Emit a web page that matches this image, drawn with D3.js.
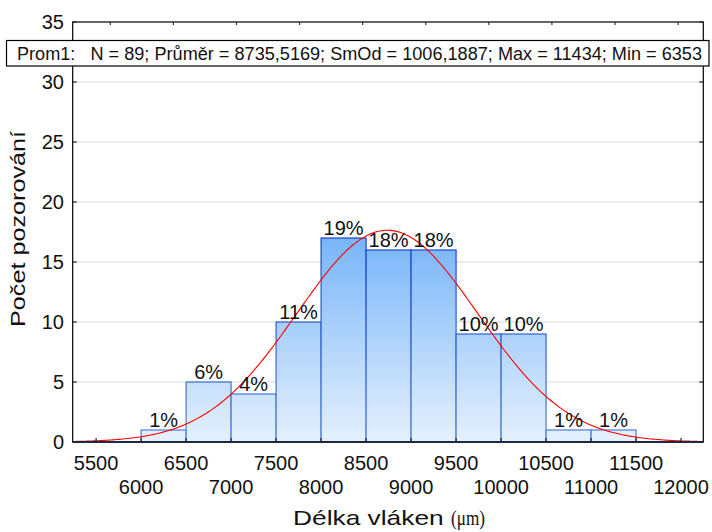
<!DOCTYPE html>
<html>
<head>
<meta charset="utf-8">
<script src="https://cdn.jsdelivr.net/npm/d3@7"></script>
<style>
  html, body { margin: 0; padding: 0; background: #fff; }
  svg { display: block; font-family: "Liberation Sans", Arial, sans-serif; }
</style>
</head>
<body>
<svg id="chart" width="712" height="532"></svg>
<script>
// ---- data ----
const binStarts = [6000, 6500, 7000, 7500, 8000, 8500, 9000, 9500, 10000, 10500, 11000];
const binWidth = 500;
const counts = [1, 5, 4, 10, 17, 16, 16, 9, 9, 1, 1];
const N = 89;
const mean = 8735.5169;
const sd = 1006.1887;
const maxVal = 11434;
const minVal = 6353;
const xTicksRow1 = [5500, 6500, 7500, 8500, 9500, 10500, 11500];
const xTicksRow2 = [6000, 7000, 8000, 9000, 10000, 11000, 12000];
const yTicks = [0, 5, 10, 15, 20, 25, 30, 35];
const topTicks = [5658, 6359, 7060, 7761, 8462, 9163, 9864, 10565, 11266, 11967];
const statsText = "Prom1:   N = 89; Průměr = 8735,5169; SmOd = 1006,1887; Max = 11434; Min = 6353";
const xTitle = "Délka vláken ";
const xTitleUnit = "(μm)";
const yTitle = "Počet pozorování";

// ---- layout ----
const L = 72.7, R = 703.3, T = 22, B = 442;
const svg = d3.select("#chart");
const x = d3.scaleLinear().domain([5240, 12247]).range([L, R]);
const y = d3.scaleLinear().domain([0, 35]).range([B, T]);

// gradient
const defs = svg.append("defs");
const grad = defs.append("linearGradient").attr("id", "barGrad")
  .attr("gradientUnits", "userSpaceOnUse")
  .attr("x1", 0).attr("x2", 0).attr("y1", y(0)).attr("y2", y(17));
grad.append("stop").attr("offset", 0).attr("stop-color", "#e6f1fd");
grad.append("stop").attr("offset", 1).attr("stop-color", "#78b5f8");

const sgrad = defs.append("linearGradient").attr("id", "strokeGrad")
  .attr("gradientUnits", "userSpaceOnUse")
  .attr("x1", 0).attr("x2", 0).attr("y1", y(0)).attr("y2", y(17));
sgrad.append("stop").attr("offset", 0).attr("stop-color", "#4f7fdc");
sgrad.append("stop").attr("offset", 1).attr("stop-color", "#1445c6");

defs.append("clipPath").attr("id", "plotClip").append("rect")
  .attr("x", L).attr("y", T).attr("width", R - L).attr("height", B - T);

// gridlines
svg.append("g").selectAll("line").data(yTicks.filter(d => d > 0 && d < 35)).join("line")
  .attr("x1", L).attr("x2", R).attr("y1", d => y(d)).attr("y2", d => y(d))
  .attr("stroke", "#d9d9d9").attr("stroke-width", 1);

// bars
svg.append("g").selectAll("rect").data(binStarts).join("rect")
  .attr("x", d => x(d))
  .attr("width", d => x(d + binWidth) - x(d))
  .attr("y", (d, i) => y(counts[i]))
  .attr("height", (d, i) => y(0) - y(counts[i]))
  .attr("fill", "url(#barGrad)")
  .attr("stroke", "url(#strokeGrad)")
  .attr("stroke-width", 1.2);

// normal curve
const nPts = 300;
const xs = d3.range(nPts + 1).map(i => x.domain()[0] + (x.domain()[1] - x.domain()[0]) * i / nPts);
const pdf = v => N * binWidth * Math.exp(-0.5 * ((v - mean) / sd) ** 2) / (sd * Math.sqrt(2 * Math.PI));
svg.append("path")
  .datum(xs)
  .attr("clip-path", "url(#plotClip)")
  .attr("d", d3.line().x(d => x(d)).y(d => y(pdf(d))))
  .attr("fill", "none").attr("stroke", "#ff0000").attr("stroke-width", 1.1);

// percent labels
svg.append("g").selectAll("text").data(binStarts).join("text")
  .attr("x", d => x(d + binWidth / 2))
  .attr("y", (d, i) => y(counts[i]) - 3)
  .attr("text-anchor", "middle")
  .attr("font-size", 20)
  .attr("fill", "#111")
  .text((d, i) => Math.round(counts[i] / N * 100) + "%");

// frame
svg.append("rect").attr("x", L).attr("y", T).attr("width", R - L).attr("height", B - T)
  .attr("fill", "none").attr("stroke", "#000").attr("stroke-width", 1.2);
// baseline
svg.append("line").attr("x1", L).attr("x2", R).attr("y1", y(0)).attr("y2", y(0))
  .attr("stroke", "#1c2a48").attr("stroke-width", 2.2);

// bottom ticks (inward)
const allX = xTicksRow1.concat(xTicksRow2);
svg.append("g").selectAll("line").data(allX).join("line")
  .attr("x1", d => x(d)).attr("x2", d => x(d)).attr("y1", B).attr("y2", B - 4)
  .attr("stroke", "#222").attr("stroke-width", 1.2);
// top ticks
svg.append("g").selectAll("line").data(topTicks).join("line")
  .attr("x1", d => x(d)).attr("x2", d => x(d)).attr("y1", T).attr("y2", T + 3)
  .attr("stroke", "#333").attr("stroke-width", 1.2);
// left/right ticks
svg.append("g").selectAll("line").data(yTicks).join("line")
  .attr("x1", L).attr("x2", L + 4).attr("y1", d => y(d)).attr("y2", d => y(d))
  .attr("stroke", "#222").attr("stroke-width", 1.2);
svg.append("g").selectAll("line").data(yTicks).join("line")
  .attr("x1", R - 4).attr("x2", R).attr("y1", d => y(d)).attr("y2", d => y(d))
  .attr("stroke", "#222").attr("stroke-width", 1.2);

// tick labels
svg.append("g").selectAll("text").data(yTicks).join("text")
  .attr("x", 64).attr("y", d => y(d) + 7)
  .attr("text-anchor", "end").attr("font-size", 20).attr("fill", "#111")
  .text(d => d);
svg.append("g").selectAll("text").data(xTicksRow1).join("text")
  .attr("x", d => x(d)).attr("y", 470)
  .attr("text-anchor", "middle").attr("font-size", 20).attr("fill", "#111")
  .text(d => d);
svg.append("g").selectAll("text").data(xTicksRow2).join("text")
  .attr("x", d => x(d)).attr("y", 493.5)
  .attr("text-anchor", "middle").attr("font-size", 20).attr("fill", "#111")
  .text(d => d);

// axis titles (reference titles are horizontally wide)
const xt = svg.append("text").attr("x", 293).attr("y", 525)
  .attr("font-size", 21).attr("fill", "#111");
const xt1 = xt.append("tspan").text(xTitle);
const xt2 = xt.append("tspan").attr("font-family", "'Liberation Serif', 'Times New Roman', serif").text(xTitleUnit);
xt1.attr("textLength", 158).attr("lengthAdjust", "spacingAndGlyphs");
xt2.attr("x", 293 + 158).attr("textLength", 34).attr("lengthAdjust", "spacingAndGlyphs");

svg.append("text")
  .attr("transform", `translate(25,229) rotate(-90)`)
  .attr("text-anchor", "middle").attr("font-size", 21).attr("fill", "#111")
  .attr("textLength", 196).attr("lengthAdjust", "spacingAndGlyphs")
  .text(yTitle);

// stats box
svg.append("rect").attr("x", 6.5).attr("y", 40.5).attr("width", 702.5).attr("height", 25.5)
  .attr("fill", "#fff").attr("stroke", "#000").attr("stroke-width", 1.2);
const st = svg.append("text").attr("x", 17).attr("y", 59.5)
  .attr("font-size", 17.5).attr("fill", "#111").attr("xml:space", "preserve")
  .style("white-space", "pre")
  .text(statsText);
const w = st.node().getComputedTextLength();
if (Math.abs(w - 685) > 3) st.attr("textLength", 685).attr("lengthAdjust", "spacingAndGlyphs");
</script>
</body>
</html>
